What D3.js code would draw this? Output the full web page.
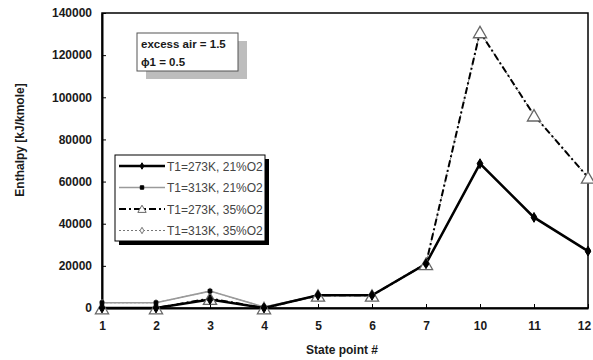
<!DOCTYPE html>
<html>

<head>
  <meta charset="utf8">
  <script src="https://d3js.org/d3.v7.min.js"></script>
  <style>
    body {
      margin: 0;
      background: white;
    }

    text {
      font-family: "Liberation Sans", Arial, sans-serif;
    }

    .axis text {
      fill: #1a1a1a;
      font-size: 12px;
      font-weight: bold;
    }

    .axis path {
      stroke: black;
      stroke-width: 2;
    }
  </style>
</head>

<body>
  <svg id="chart" width="593" height="360"></svg>

  <script>
    var states = ['1', '2', '3', '4', '5', '6', '7', '10', '11', '12'];
    var yTicks = [0, 20000, 40000, 60000, 80000, 100000, 120000, 140000];

    var s273k21 = [0, 0, 4000, 0, 6000, 6000, 21000, 68500, 43000, 27000];
    var s313k21 = [2500, 2500, 8000, 500, 6000, 6000, 21000, 68500, 43000, 27000];
    var s273k35 = [0, 0, 4500, 0, 6000, 6000, 21000, 131000, 91500, 62000];
    var s313k35 = [2500, 2500, 8000, 500, 6000, 6000, 21000, 131000, 91500, 62000];

    var seriesNames = ['T1=273K, 21%O2', 'T1=313K, 21%O2', 'T1=273K, 35%O2', 'T1=313K, 35%O2'];

    var series = [
      { name: seriesNames[0], values: s273k21, color: 'black', width: 2.5, dash: null, marker: 'diamond', fill: 'black', size: 28 },
      { name: seriesNames[1], values: s313k21, color: '#9a9a9a', width: 1.5, dash: null, marker: 'square', fill: 'black', size: 14 },
      { name: seriesNames[2], values: s273k35, color: 'black', width: 2, dash: '7,3,2,3', marker: 'triangle', fill: 'white', size: 75 },
      { name: seriesNames[3], values: s313k35, color: '#777', width: 1, dash: '2,2', marker: 'diamond', fill: 'white', size: 12 }
    ];

    var chart = d3.select('#chart');
    var margin = { top: 13, right: 5, bottom: 52, left: 102 };
    var width = chart.attr('width') - margin.left - margin.right;
    var height = chart.attr('height') - margin.top - margin.bottom;

    var x = d3.scalePoint()
      .domain(states)
      .range([0, width])
      .padding(0);

    var y = d3.scaleLinear()
      .domain([0, 140000])
      .range([height, 0]);

    var group = chart.append('g')
      .attr('transform', 'translate(' + margin.left + ', ' + margin.top + ')');

    // frame
    group.append('rect')
      .attr('width', width)
      .attr('height', height)
      .attr('fill', 'white')
      .attr('stroke', 'black')
      .attr('stroke-width', 1.5);

    group.append('g')
      .attr('class', 'axis x-axis')
      .attr('transform', 'translate(0, ' + height + ')')
      .call(d3.axisBottom(x).tickSizeInner(-4).tickSizeOuter(0).tickPadding(13))
      .selectAll('.tick:last-of-type text')
      .attr('dx', -4);

    group.append('g')
      .attr('class', 'axis y-axis')
      .call(d3.axisLeft(y).tickValues(yTicks).tickFormat(d3.format('d')).tickSizeInner(-4).tickSizeOuter(0).tickPadding(10));

    chart.append('text')
      .attr('x', 342)
      .attr('y', 354)
      .attr('text-anchor', 'middle')
      .attr('font-size', 12)
      .attr('font-weight', 'bold')
      .attr('fill', '#1a1a1a')
      .text('State point #');

    chart.append('text')
      .attr('transform', 'translate(24, 140) rotate(-90)')
      .attr('text-anchor', 'middle')
      .attr('font-size', 12)
      .attr('font-weight', 'bold')
      .attr('fill', '#1a1a1a')
      .text('Enthalpy [kJ/kmole]');

    var symbolType = { diamond: d3.symbolDiamond, square: d3.symbolSquare, triangle: d3.symbolTriangle };

    var line = d3.line()
      .x((d, i) => x(states[i]))
      .y((d) => y(d));

    // draw back-to-front so the thick black line sits on top
    var order = [3, 2, 1, 0];
    order.forEach(function (k) {
      var s = series[k];
      group.append('path')
        .datum(s.values)
        .attr('fill', 'none')
        .attr('stroke', s.color)
        .attr('stroke-width', s.width)
        .attr('stroke-dasharray', s.dash)
        .attr('d', line);
    });
    order.forEach(function (k) {
      var s = series[k];
      group.selectAll(null)
        .data(s.values)
        .enter()
        .append('path')
        .attr('transform', (d, i) => 'translate(' + x(states[i]) + ',' + (y(d) + (s.marker === 'triangle' ? 2 : 0)) + ')')
        .attr('d', d3.symbol().type(symbolType[s.marker]).size(s.size))
        .attr('fill', s.fill)
        .attr('stroke', s.marker === 'triangle' ? '#666' : s.fill === 'white' ? s.color : 'black')
        .attr('stroke-width', s.marker === 'triangle' ? 1.3 : 1);
    });

    // annotation box
    var note = chart.append('g').attr('transform', 'translate(137, 33)');
    note.append('rect').attr('x', 9).attr('y', 8).attr('width', 101).attr('height', 38).attr('fill', '#bdbdbd');
    note.append('rect').attr('width', 101).attr('height', 38).attr('fill', 'white').attr('stroke', '#555').attr('stroke-width', 1);
    note.append('text').attr('x', 4).attr('y', 15).attr('font-size', 11.5).attr('font-weight', 'bold').attr('fill', '#1a1a1a').text('excess air = 1.5');
    note.append('text').attr('x', 4).attr('y', 33).attr('font-size', 11.5).attr('font-weight', 'bold').attr('fill', '#1a1a1a').text('\u03d51 = 0.5');

    // legend
    var legend = chart.append('g').attr('transform', 'translate(115, 155)');
    legend.append('rect').attr('x', 4).attr('y', 4).attr('width', 150).attr('height', 86).attr('fill', 'black');
    legend.append('rect').attr('width', 150).attr('height', 86).attr('fill', 'white').attr('stroke', 'black').attr('stroke-width', 1);

    var rows = legend.selectAll('.row')
      .data(series)
      .enter()
      .append('g')
      .attr('class', 'row')
      .attr('transform', (d, i) => 'translate(0,' + (11 + i * 21.5) + ')');

    rows.append('line')
      .attr('x1', 4)
      .attr('x2', 50)
      .attr('stroke', (d) => d.color)
      .attr('stroke-width', (d) => d.width)
      .attr('stroke-dasharray', (d) => d.dash);

    rows.append('path')
      .attr('transform', (d) => 'translate(27,' + (d.marker === 'triangle' ? 1 : 0) + ')')
      .attr('d', (d) => d3.symbol().type(symbolType[d.marker]).size(d.marker === 'triangle' ? 30 : 12)())
      .attr('fill', (d) => d.fill)
      .attr('stroke', (d) => d.marker === 'triangle' ? '#666' : d.fill === 'white' ? d.color : 'black');

    rows.append('text')
      .attr('x', 52)
      .attr('y', 4.5)
      .attr('font-size', 12)
      .attr('fill', '#444')
      .text((d) => d.name);
  </script>
</body>

</html>
